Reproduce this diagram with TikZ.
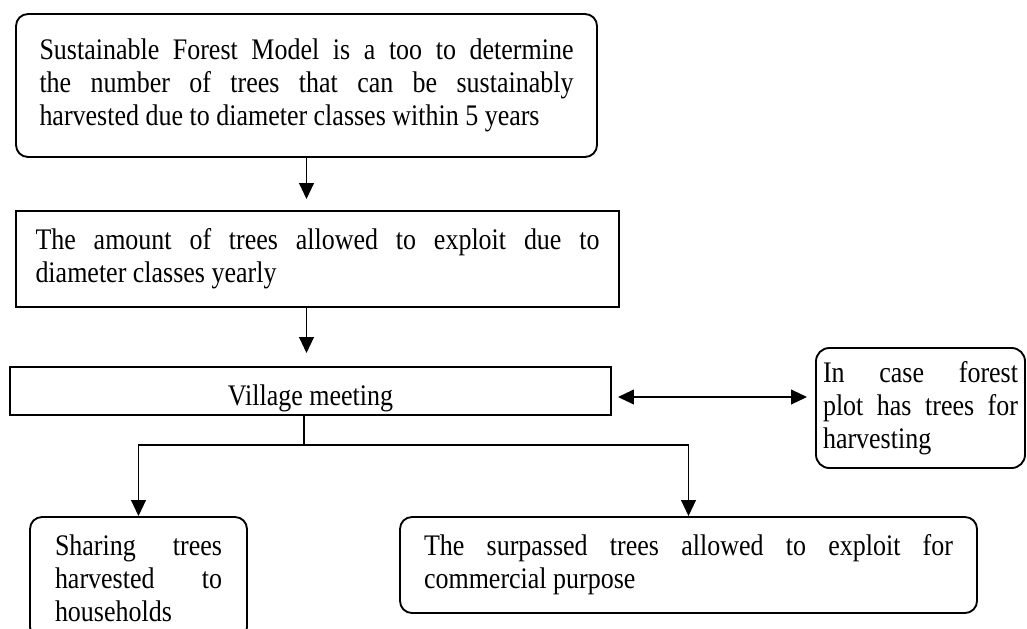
\documentclass[tikz,border=0pt]{standalone}
\usepackage{fontspec}
\setmainfont{Liberation Serif}[FakeStretch=0.87]
\usetikzlibrary{arrows.meta,calc}
\begin{document}
\begin{tikzpicture}[x=0.75pt,y=-0.75pt,
  every node/.style={font=\fontsize{22.4pt}{24.75pt}\selectfont, inner sep=0pt},
  rbox/.style={draw, line width=1.4pt, rounded corners=9pt},
  sbox/.style={draw, line width=1.4pt},
  arr/.style={line width=1.4pt, -{Triangle[length=12pt,width=11pt]}},
  dbl/.style={line width=1.4pt, {Triangle[length=12pt,width=11pt]}-{Triangle[length=12pt,width=11pt]}},
  conn/.style={line width=1.4pt}]
\useasboundingbox (0,0) rectangle (1027,628);
\fill[white] (0,0) rectangle (1027,628);
\clip (0,0) rectangle (1027,628);

\node[rbox, minimum width=435.75pt, minimum height=107.25pt, text width=400.5pt, align=justify] (model) at (306.5,85.5)
  {Sustainable \hfill Forest \hfill Model \hfill is \hfill a \hfill too \hfill to \hfill determine\\
   the \hfill number \hfill of \hfill trees \hfill that \hfill can \hfill be \hfill sustainably\\
   harvested due to diameter classes within 5 years};

\node[sbox, minimum width=452.25pt, minimum height=72pt, text width=423pt, align=justify] (amount) at (317.5,259)
  {The \hfill amount \hfill of \hfill trees \hfill allowed \hfill to \hfill exploit \hfill due \hfill to\\
   diameter classes yearly};

\node[sbox, minimum width=450.75pt, minimum height=36pt, text height=21pt, text depth=0pt] (village) at (310.5,391) {Village meeting};

\node[rbox, rounded corners=10pt, minimum width=156.75pt, minimum height=90pt, text width=146.25pt, align=justify] (incase) at (920.5,408)
  {In \hfill case \hfill forest\\
   plot \hfill has \hfill trees \hfill for\\
   harvesting};

\node[rbox, minimum width=162.75pt, minimum height=91.5pt, text width=125.25pt, align=justify] (share) at (138.5,578)
  {Sharing \hfill trees\\
   harvested \hfill to\\
   households};

\node[rbox, minimum width=432.75pt, minimum height=72pt, text width=396.75pt, align=justify] (commercial) at (688.5,565)
  {The \hfill surpassed \hfill trees \hfill allowed \hfill to \hfill exploit \hfill for\\
   commercial purpose};

\draw[arr] (model.south) -- ([yshift=8.25pt]model.south |- amount.north);
\draw[arr] (model.south |- amount.south) -- ([yshift=9.75pt]model.south |- village.north);
\coordinate (split) at (304,445);
\draw[conn] (village.south -| split) -- (split);
\draw[arr] (split) -| (share.north);
\draw[arr] (split) -| (commercial.north);
\draw[dbl] ([shift={(6,6)}]village.east) -- ([shift={(-8,6)}]village.east -| incase.west);
\end{tikzpicture}
\end{document}
